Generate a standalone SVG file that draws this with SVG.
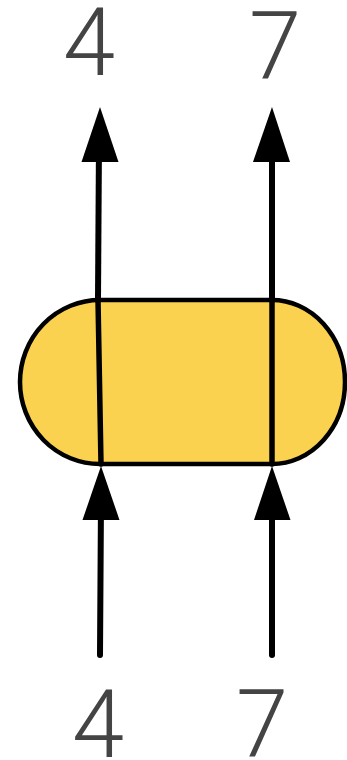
<svg xmlns="http://www.w3.org/2000/svg" width="347" height="760" viewBox="0 0 347 760">
<style>
.lbl{font-family:Roboto,"Liberation Sans",sans-serif;font-weight:300;font-size:94px;fill:#444;text-anchor:middle}
.wire{stroke:#000;stroke-width:6;fill:none;stroke-linecap:round}
.node{fill:#FAD24F;stroke:#000;stroke-width:4.5}
</style>
<g id="node-box">
<path class="node" d="M100,300 H272 A73,82 0 0 1 272,464 H100 A80,82 0 0 1 100,300 Z"/>
</g>
<g id="connectors">
<line class="wire" x1="101" y1="464" x2="98" y2="300" style="stroke-width:5.5"/>
<line class="wire" x1="272" y1="464" x2="272" y2="300" style="stroke-width:5.5"/>
<path d="M100,655 L101,500" class="wire"/>
<path d="M272,655 L272,500" class="wire"/>
<path d="M98,300 L99,140" class="wire" style="stroke-linecap:butt"/>
<path d="M272,300 L272,140" class="wire" style="stroke-linecap:butt"/>
<polygon points="101,466 82.5,520 119.5,520" fill="#000"/>
<polygon points="272,466 254,520 290.5,520" fill="#000"/>
<polygon points="100,107 81.5,162 118.5,162" fill="#000"/>
<polygon points="272,107 253,162 290,162" fill="#000"/>
</g>
<g id="labels">
<text class="lbl" x="89" y="75">4</text>
<text class="lbl" x="275" y="79">7</text>
<text class="lbl" x="98" y="757">4</text>
<text class="lbl" x="262" y="757">7</text>
</g>
</svg>
